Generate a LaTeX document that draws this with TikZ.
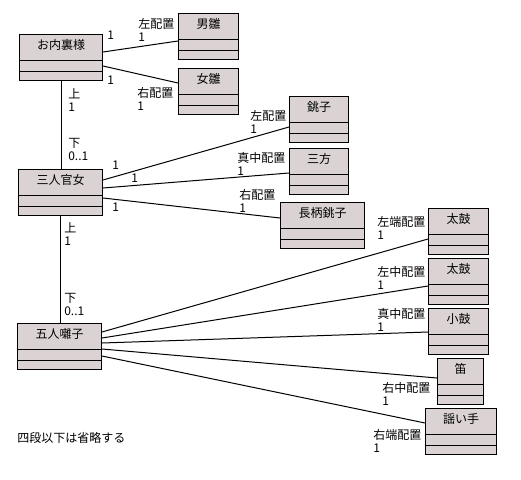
\documentclass[tikz,border=0pt]{standalone}
\usepackage{fontspec}
\usepackage{xcolor}
\usepackage{tikz}
\usetikzlibrary{calc}
\newfontfamily\jpfont{Noto Sans CJK JP}
\definecolor{dollbg}{HTML}{DBD3D3}
\tikzset{
  klass/.style={draw,fill=dollbg,line width=0.75pt,anchor=north west,inner sep=0pt,
                text height=11.25pt,text depth=23.25pt,font=\jpfont\fontsize{9pt}{9.75pt}\selectfont,
                path picture={
                  \draw[line width=0.75pt] ([yshift=-19.5pt]path picture bounding box.north west) -- ([yshift=-19.5pt]path picture bounding box.north east);
                  \draw[line width=0.75pt] ([yshift=-27.4pt]path picture bounding box.north west) -- ([yshift=-27.4pt]path picture bounding box.north east);}},
  lbl/.style={anchor=west,inner sep=0pt,align=left,font=\jpfont\fontsize{9pt}{9.75pt}\selectfont},
  assoc/.style={line width=0.75pt},
}
\begin{document}
\begin{tikzpicture}[x=0.75pt,y=-0.75pt]
  \useasboundingbox (0,0) rectangle (521,479);
  % classes
  \node[klass,minimum width=62.25pt] (odairi)    at (19,34)   {お内裏様};
  \node[klass,minimum width=45pt]    (obina)     at (178,13)  {男雛};
  \node[klass,minimum width=45pt]    (mebina)    at (178,68)  {女雛};
  \node[klass,minimum width=63pt]    (kanjo)     at (18,169)  {三人官女};
  \node[klass,minimum width=44.25pt] (choushi)   at (289,96)  {銚子};
  \node[klass,minimum width=44.25pt] (sanpou)    at (289,148) {三方};
  \node[klass,minimum width=63pt]    (nagae)     at (280,202) {長柄銚子};
  \node[klass,minimum width=63pt]    (hayashi)   at (17,323)  {五人囃子};
  \node[klass,minimum width=45pt]    (taiko)     at (428,208) {太鼓};
  \node[klass,minimum width=45pt]    (ootsuzumi) at (428,258) {太鼓};
  \node[klass,minimum width=45pt]    (kotsuzumi) at (428,308) {小鼓};
  \node[klass,minimum width=34.5pt]  (fue)       at (437,358) {笛};
  \node[klass,minimum width=53.25pt] (utai)      at (425,408) {謡い手};
  % associations
  \draw[assoc] ($(odairi.north east)+(0,18)$) -- ($(obina.north west)+(0,28)$);
  \draw[assoc] ($(odairi.north east)+(0,32)$) -- ($(mebina.north west)+(0,15)$);
  \draw[assoc] (odairi.south) -- (odairi.south |- kanjo.north);
  \draw[assoc] ($(kanjo.north east)+(0,11)$) -- ($(choushi.north west)+(0,31)$);
  \draw[assoc] ($(kanjo.north east)+(0,19)$) -- ($(sanpou.north west)+(0,25)$);
  \draw[assoc] ($(kanjo.north east)+(0,29)$) -- ($(nagae.north west)+(0,16)$);
  \draw[assoc] (kanjo.south) -- (kanjo.south |- hayashi.north);
  \draw[assoc] ($(hayashi.north east)+(0,9)$)  -- ($(taiko.north west)+(0,31)$);
  \draw[assoc] ($(hayashi.north east)+(0,15)$) -- ($(ootsuzumi.north west)+(0,28)$);
  \draw[assoc] ($(hayashi.north east)+(0,20)$) -- ($(kotsuzumi.north west)+(0,24)$);
  \draw[assoc] ($(hayashi.north east)+(0,26)$) -- ($(fue.north west)+(0,20)$);
  \draw[assoc] ($(hayashi.north east)+(0,33)$) -- ($(utai.north west)+(0,15)$);
  % roles and multiplicities
  \node[lbl] (m1)  at (107,35)    {1};
  \node[lbl] (r1)  at (138,29.5)  {左配置\\1};
  \node[lbl] (m2)  at (107,80)    {1};
  \node[lbl] (r2)  at (137,98.5)  {右配置\\1};
  \node[lbl] (u1)  at (68,100)    {上\\1};
  \node[lbl] (d1)  at (68,149.5)  {下\\0..1};
  \node[lbl] (m3)  at (112,165)   {1};
  \node[lbl] (m4)  at (131,178)   {1};
  \node[lbl] (m5)  at (112,207)   {1};
  \node[lbl] (r3)  at (250,122)   {左配置\\1};
  \node[lbl] (r4)  at (237,163.5) {真中配置\\1};
  \node[lbl] (r5)  at (239,200.5) {右配置\\1};
  \node[lbl] (u2)  at (64,234.5)  {上\\1};
  \node[lbl] (d2)  at (64,304)    {下\\0..1};
  \node[lbl] (r6)  at (377,227.5) {左端配置\\1};
  \node[lbl] (r7)  at (377,277.5) {左中配置\\1};
  \node[lbl] (r8)  at (377,319.5) {真中配置\\1};
  \node[lbl] (r9)  at (382,394)   {右中配置\\1};
  \node[lbl] (r10) at (373,440.5) {右端配置\\1};
  \node[lbl] (note) at (17,438)   {四段以下は省略する};
\end{tikzpicture}
\end{document}
